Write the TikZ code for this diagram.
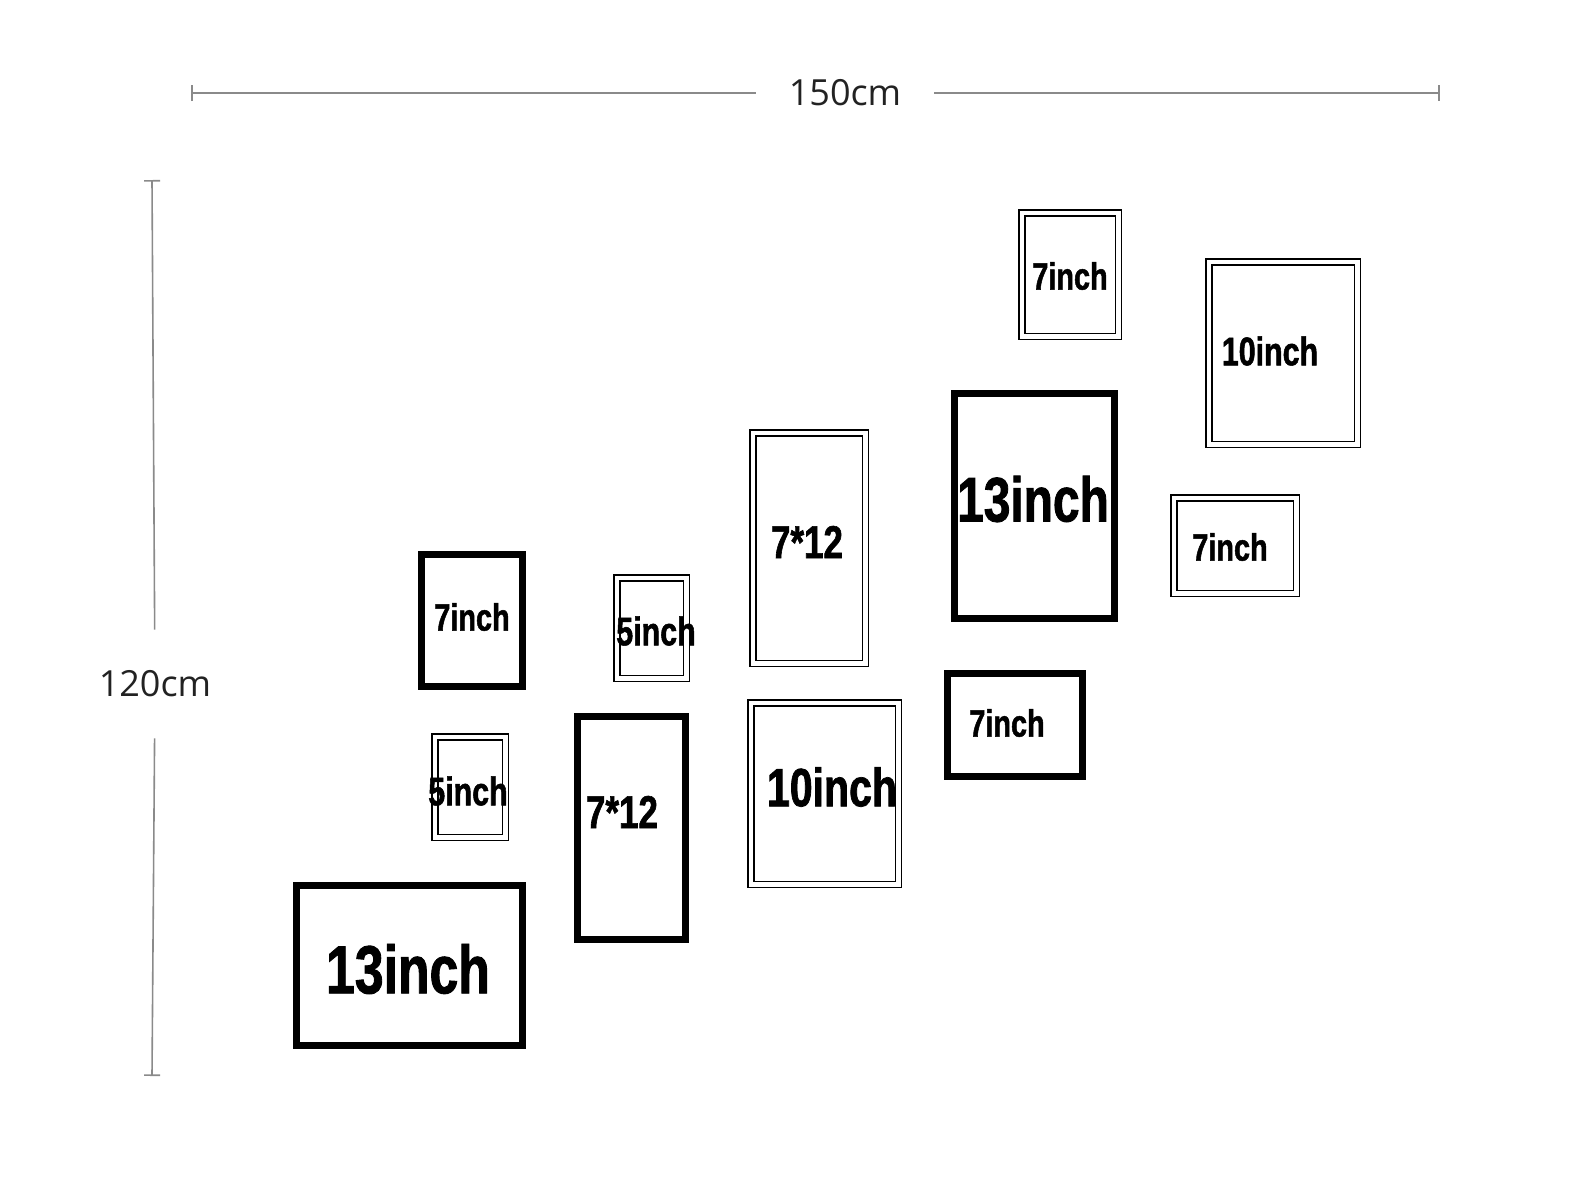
\documentclass[tikz,border=0pt]{standalone}
\usepackage{fontspec}
\setmainfont{Open Sans}
\newfontfamily\lblfont[FakeStretch=0.76, FakeBold=1.3]{Liberation Sans}
\usetikzlibrary{arrows.meta}
\definecolor{dimgray}{HTML}{8A8A8A}
\definecolor{dimtext}{HTML}{222222}
\tikzset{
    thickframe/.style 2 args={draw=black, line width=7pt, inner sep=0pt, minimum width=#1pt-7pt, minimum height=#2pt-7pt},
    dblframe/.style 2 args={draw=black, line width=1.5pt, double=white, double distance=4.5pt, inner sep=0pt, minimum width=#1pt-7.5pt, minimum height=#2pt-7.5pt},
    framelabel/.style={font=\lblfont\bfseries\fontsize{#1}{#1}\selectfont, inner sep=0pt},
    dimline/.style={draw=dimgray, line width=1.6pt},
    dimlabel/.style={font=\fontsize{36}{36}\selectfont, text=dimtext, inner sep=0pt}
}

\begin{document}
\begin{tikzpicture}[x=1pt, y=-1pt]
    \useasboundingbox (0,0) rectangle (1588,1192);

    % Overall size
    \coordinate (wl) at (191,93);
    \coordinate (wr) at (1440,93);
    \node[dimlabel, inner xsep=33pt] (wlbl) at (845,93) {150cm};
    \draw[dimline, {Bar[width=16pt]}-] (wl) -- (wlbl);
    \draw[dimline, -{Bar[width=16pt]}] (wlbl) -- (wr);

    \coordinate (ht) at (152,180);
    \coordinate (hb) at (152,1076);
    \node[dimlabel, inner ysep=41pt] (hlbl) at (155,684) {120cm};
    \draw[dimline, {Bar[width=16pt]}-] (ht) -- (hlbl);
    \draw[dimline, -{Bar[width=16pt]}] (hlbl) -- (hb);

    % Frames
    \node[dblframe={104}{131}] (f1) at (1070,274.5) {};
    \node[dblframe={156}{190}] (f2) at (1283,353) {};
    \node[thickframe={167}{232}] (f3) at (1034,505.5) {};
    \node[dblframe={130}{103}] (f4) at (1235,545.5) {};
    \node[dblframe={120}{238}] (f5) at (809,548) {};
    \node[dblframe={77}{108}] (f6) at (651.5,628) {};
    \node[thickframe={108}{139}] (f7) at (472,620.5) {};
    \node[thickframe={142}{110}] (f8) at (1015,725) {};
    \node[dblframe={155}{189}] (f9) at (824.5,793.5) {};
    \node[thickframe={115}{230}] (f10) at (631.5,828) {};
    \node[dblframe={78}{108}] (f11) at (470,787) {};
    \node[thickframe={233}{167}] (f12) at (409.5,965.5) {};

    % Sizes
    \node[framelabel=38] (l1) at (1070,276) {7inch};
    \node[framelabel=40] (l2) at (1270,351) {10inch};
    \node[framelabel=63] (l3) at (1033,499) {13inch};
    \node[framelabel=38] (l4) at (1230,547) {7inch};
    \node[framelabel=46] (l5) at (807,542) {7*12};
    \node[framelabel=40] (l6) at (656,631) {5inch};
    \node[framelabel=38] (l7) at (472,617) {7inch};
    \node[framelabel=38] (l8) at (1007,723) {7inch};
    \node[framelabel=54] (l9) at (832,787) {10inch};
    \node[framelabel=46] (l10) at (622,812) {7*12};
    \node[framelabel=40] (l11) at (468,791) {5inch};
    \node[framelabel=68] (l12) at (408,969) {13inch};
\end{tikzpicture}
\end{document}
